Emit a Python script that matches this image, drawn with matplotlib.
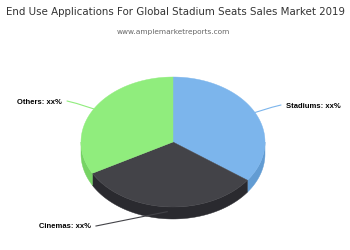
import numpy as np
import matplotlib.pyplot as plt
from matplotlib.patches import Polygon

# slice data
labels = ['Stadiums', 'Cinemas', 'Others']
values = [35, 32, 33]
colors = ['#7cb5ec', '#434348', '#90ed7d']
side_colors = ['#629cd3', '#2a2a2f', '#76d364']

title = 'End Use Applications For Global Stadium Seats Sales Market 2019'
subtitle = 'www.amplemarketreports.com'

fig = plt.figure(figsize=(3.5, 2.5), dpi=100)
ax = fig.add_axes([0, 0, 1, 1])
ax.set_xlim(0, 350)
ax.set_ylim(250, 0)
ax.axis('off')

# pie geometry in pixels
cx, cy, rx, ry, depth = 173, 142, 92, 65, 12

fracs = np.array(values) / sum(values)
ends = 90 - 360 * np.cumsum(fracs)
starts = ends + 360 * fracs


def arc(a0, a1, n=100):
    t = np.radians(np.linspace(a0, a1, n))
    return cx + rx * np.cos(t), cy - ry * np.sin(t)


# outer walls (only the front half is visible)
for s, e, c in zip(starts, ends, side_colors):
    lo, hi = max(e, -180), min(s, 0)
    if hi <= lo:
        continue
    x, y = arc(hi, lo)
    pts = np.column_stack([np.r_[x, x[::-1]], np.r_[y, y[::-1] + depth]])
    ax.add_patch(Polygon(pts, closed=True, fc=c, ec=c, lw=0.3))

# top faces
for s, e, c in zip(starts, ends, colors):
    x, y = arc(s, e)
    pts = np.column_stack([np.r_[cx, x], np.r_[cy, y]])
    ax.add_patch(Polygon(pts, closed=True, fc=c, ec=c, lw=0.3))

# data labels with connectors
label_pos = [(286, 106, 'left'), (91, 227, 'right'), (62, 102, 'right')]
for s, e, c, lab, (lx, ly, ha) in zip(starts, ends, colors, labels, label_pos):
    mid = np.radians((s + e) / 2)
    px, py = cx + rx * np.cos(mid), cy - ry * np.sin(mid)
    ex = lx - 5 if ha == 'left' else lx + 5
    if np.sin(mid) < -0.5:
        py += depth * 0.4
        ax.plot([px, ex], [py, ly - 1], color=c, lw=0.8)
    else:
        ax.plot([px, (px + ex) / 2 + (ex - px) * 0.15, ex],
                [py, (py + ly) / 2 + (ly - py) * 0.3, ly - 1],
                color=c, lw=0.8, solid_capstyle='round')
    ax.text(lx, ly, f'{lab}: xx%', ha=ha, va='center', fontsize=5.5,
            fontweight='bold', family='Liberation Sans', color='#000000')

ax.text(175, 12, title, ha='center', va='center', fontsize=7.4, color='#333333',
        family='DejaVu Sans')
ax.text(173, 32, subtitle, ha='center', va='center', fontsize=5.3, color='#666666',
        family='DejaVu Sans')

fig.savefig('out.png', dpi=100)
